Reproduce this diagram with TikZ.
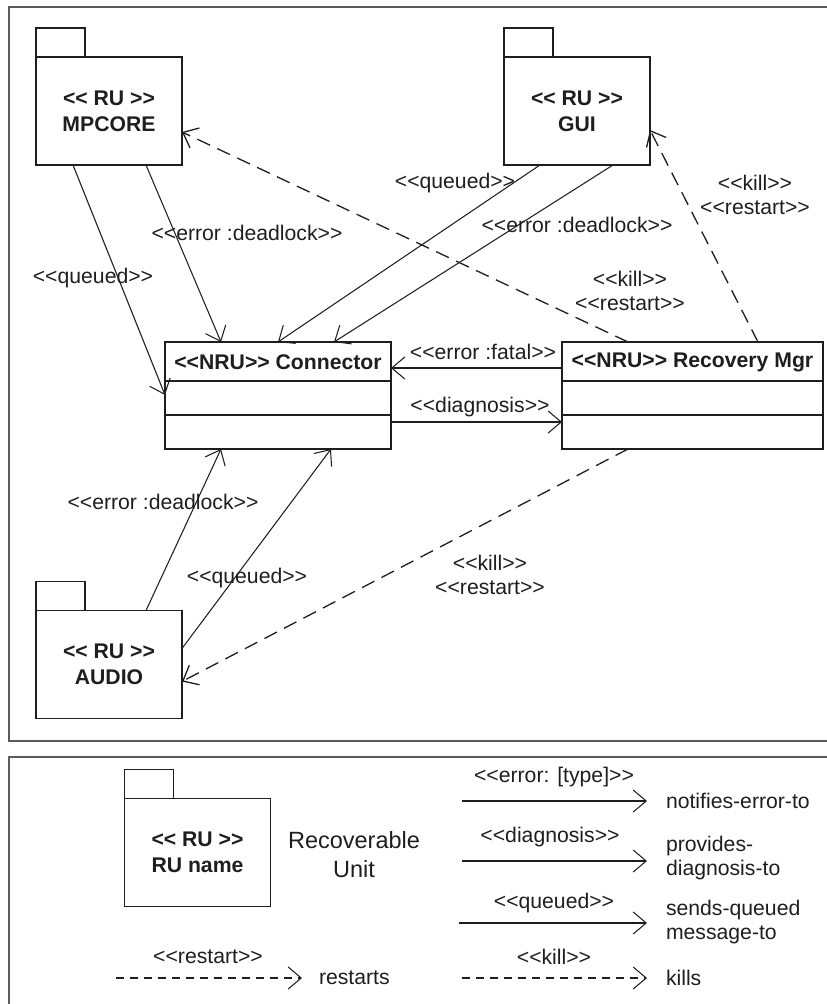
\documentclass[tikz,border=0pt]{standalone}
\usepackage{fontspec}
\newfontfamily\lsans{Liberation Sans}
\usetikzlibrary{arrows.meta}
\definecolor{ink}{HTML}{1E1E1E}
\definecolor{framec}{HTML}{5A5A5A}
\begin{document}
\begin{tikzpicture}[x=1pt,y=-1pt,
  every node/.style={inner sep=0pt, outer sep=0pt, text=ink},
  txt/.style={font=\lsans\fontsize{21.2}{24}\selectfont, align=center},
  bold/.style={font=\lsans\bfseries\fontsize{21.2}{26}\selectfont, align=center},
  pkg/.style={bold, draw=ink, line width=1.2pt, minimum width=146pt, minimum height=108pt},
  pkgtab/.style={draw=ink, line width=1.2pt, minimum width=49pt, minimum height=29pt, anchor=south west},
  clsbox/.style={draw=ink, line width=1.2pt, minimum height=107pt},
  sepline/.style={draw=ink, line width=1.2pt},
  msg/.style={draw=ink, line width=1.05pt, -{Straight Barb[length=13pt,width=22pt]}},
  dmsg/.style={msg, line width=1.3pt, dash pattern=on 14pt off 8pt},
  ldmsg/.style={msg, dash pattern=on 8pt off 6pt},
  framel/.style={draw=framec, line width=1.8pt}
]
\useasboundingbox (0,0) rectangle (827,1004);
% frames
\draw[framel] (840,7) -- (9,7) -- (9,741) -- (840,741);
\draw[framel] (840,757) -- (9,757) -- (9,1020);

% packages
\node[pkg] (mpcore) at (109,111) {<< RU >>\\MPCORE};
\node[pkgtab] (mpcoretab) at (mpcore.north west) {};
\node[pkg] (gui) at (577,111) {<< RU >>\\GUI};
\node[pkgtab] (guitab) at (gui.north west) {};
\node[pkg] (audio) at (109,664.5) {<< RU >>\\AUDIO};
\node[pkgtab] (audiotab) at (audio.north west) {};

% classes
\node[clsbox, minimum width=226pt] (conn) at (278,395.5) {};
\node[bold] (conntitle) at ([yshift=-20pt]conn.north) {<<NRU>> Connector};
\draw[sepline] ([yshift=-39pt]conn.north west) -- ([yshift=-39pt]conn.north east);
\draw[sepline] ([yshift=-73pt]conn.north west) -- ([yshift=-73pt]conn.north east);

\node[clsbox, minimum width=261pt] (rec) at (692.5,395.5) {};
\node[bold] (rectitle) at ([yshift=-20pt]rec.north) {<<NRU>> Recovery Mgr};
\draw[sepline] ([yshift=-39pt]rec.north west) -- ([yshift=-39pt]rec.north east);
\draw[sepline] ([yshift=-73pt]rec.north west) -- ([yshift=-73pt]rec.north east);

% connectors
\draw[msg] ([xshift=37pt]mpcore.south west) -- ([yshift=-53pt]conn.north west);
\draw[msg] ([xshift=110pt]mpcore.south west) -- ([xshift=56pt]conn.north west);
\draw[msg] ([xshift=36pt]gui.south west) -- ([xshift=113pt]conn.north west);
\draw[msg] ([xshift=109pt]gui.south west) -- ([xshift=169pt]conn.north west);
\draw[msg] ([yshift=-26pt]rec.north west) -- ([yshift=-26pt]conn.north east);
\draw[msg] ([yshift=-80pt]conn.north east) -- ([yshift=-80pt]rec.north west);
\draw[dmsg] ([xshift=66pt]rec.north west) -- ([yshift=-75pt]mpcore.north east);
\draw[dmsg] ([xshift=196pt]rec.north west) -- ([yshift=-73pt]gui.north east);
\draw[msg] ([xshift=110pt]audio.north west) -- ([xshift=56pt]conn.south west);
\draw[msg] ([yshift=-38pt]audio.north east) -- ([xshift=166pt]conn.south west);
\draw[dmsg] ([xshift=66pt]rec.south west) -- ([yshift=-71pt]audio.north east);

% labels
\node[txt] (l1) at (93,278) {<<queued>>};
\node[txt] (l2) at (247,233) {<<error :deadlock>>};
\node[txt] (l3) at (455,183) {<<queued>>};
\node[txt] (l4) at (577,225) {<<error :deadlock>>};
\node[txt] (l5) at (630,290.5) {<<kill>>\\<<restart>>};
\node[txt] (l6) at (755,194.5) {<<kill>>\\<<restart>>};
\node[txt] (l7) at (483,352) {<<error :fatal>>};
\node[txt] (l8) at (480,407) {<<diagnosis>>};
\node[txt] (l9) at (163,502) {<<error :deadlock>>};
\node[txt] (l10) at (247,578) {<<queued>>};
\node[txt] (l11) at (490,574.5) {<<kill>>\\<<restart>>};

% legend
\node[pkg] (legru) at (197.5,852.5) {<< RU >>\\RU name};
\node[pkgtab] (legrutab) at (legru.north west) {};
\node[txt, font=\lsans\fontsize{23.5}{29}\selectfont] (legrutext) at (354,855) {Recoverable\\Unit};

\coordinate (e1a) at (462,801); \coordinate (e1b) at (647,801);
\draw[msg] (e1a) -- (e1b);
\node[txt] (e1l) at (554,777) {<<error: [type]>>};
\node[txt, anchor=west] (e1t) at (666,801) {notifies-error-to};

\coordinate (e2a) at (462,861); \coordinate (e2b) at (647,861);
\draw[msg] (e2a) -- (e2b);
\node[txt] (e2l) at (550,837) {<<diagnosis>>};
\node[txt, anchor=west, align=left] (e2t) at (666,858.5) {provides-\\diagnosis-to};

\coordinate (e3a) at (459,923); \coordinate (e3b) at (647,923);
\draw[msg] (e3a) -- (e3b);
\node[txt] (e3l) at (554,903) {<<queued>>};
\node[txt, anchor=west, align=left] (e3t) at (666,922.5) {sends-queued\\message-to};

\coordinate (e4a) at (462,978); \coordinate (e4b) at (647,978);
\draw[ldmsg] (e4a) -- (e4b);
\node[txt] (e4l) at (554,957) {<<kill>>};
\node[txt, anchor=west] (e4t) at (666,978) {kills};

\coordinate (e5a) at (116,978); \coordinate (e5b) at (302,978);
\draw[ldmsg] (e5a) -- (e5b);
\node[txt] (e5l) at (208,957) {<<restart>>};
\node[txt, anchor=west] (e5t) at (319,978) {restarts};
\end{tikzpicture}
\end{document}
